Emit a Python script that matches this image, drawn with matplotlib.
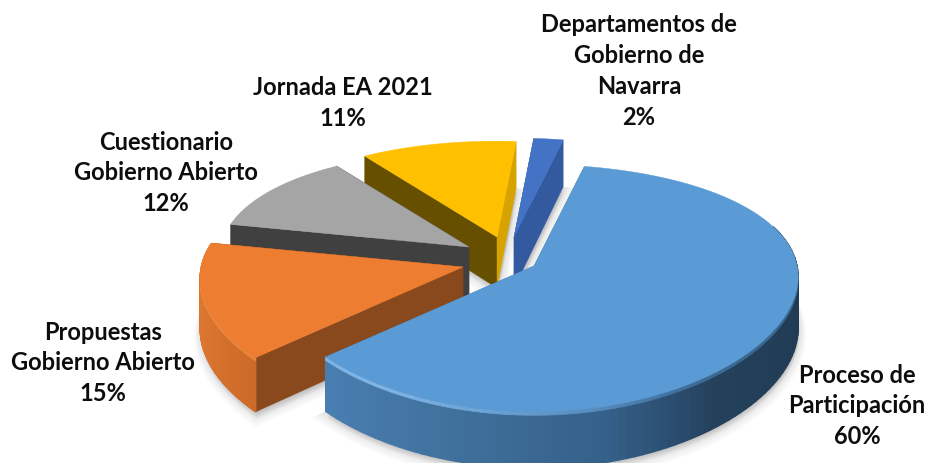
import numpy as np
import matplotlib
matplotlib.use("Agg")
import matplotlib.pyplot as plt
from matplotlib.colors import to_rgb

# Data
categories = ["Proceso de\nParticipación", "Propuestas\nGobierno Abierto", "Cuestionario\nGobierno Abierto",
              "Jornada EA 2021", "Departamentos de\nGobierno de\nNavarra"]
values = [60, 15, 12, 11, 2]

# Look of the pie
top_colors = ["#5b9bd5", "#ed7d31", "#a5a5a5", "#ffc000", "#4472c4"]
apex = [(534, 267), (463, 268), (469, 248), (497, 238), (514, 238)]   # tip of each exploded slice
size = [0.985, 0.98, 0.93, 0.93, 0.96]
face_a = ["#3f719f", "#8a491c", "#404040", "#665000", "#335a9f"]     # radial face at start angle
face_b = ["#3f719f", "#8a491c", "#404040", "#d6a300", "#335a9f"]     # radial face at end angle
label_pos = [(857, 406), (103, 363), (166, 173), (343, 103), (639, 71)]

start_angle = 12
rx, ry, persp, depth = 267, 121.5, 0.179, 51


def project(theta, tip, k):
    t = np.radians(theta)
    s = 1 / (1 + persp * np.cos(t))
    x = tip[0] + k * rx * np.sin(t) * np.sqrt(s)
    y = tip[1] - k * ry * np.cos(t) * s
    return x, y, depth * np.sqrt(s)


def mix(c1, c2, f):
    return tuple((1 - f) * a + f * b for a, b in zip(to_rgb(c1), to_rgb(c2)))


def rim_color(i, theta):
    if i == 0:
        stops = [(95, "#203a52"), (140, "#24415c"), (165, "#35608a"), (200, "#41739f"), (232, "#4b81b7")]
    else:
        stops = [(228, "#cc6a27"), (250, "#d97430"), (285, "#e07a30")]
    stops = [(-5, stops[0][1])] + stops + [(400, stops[-1][1])]
    for (a, ca), (b, cb) in zip(stops[:-1], stops[1:]):
        if a <= theta <= b:
            return mix(ca, cb, (theta - a) / (b - a))
    return stops[-1][1]


fig = plt.figure(figsize=(9.28, 4.64), dpi=100)
ax = fig.add_axes([0, 0, 1, 1])
ax.set_xlim(0, 928)
ax.set_ylim(464, 0)
ax.axis("off")
plt.rcParams["font.family"] = ["Lato", "DejaVu Sans"]

spans = []
a0 = start_angle
for v in values:
    a1 = a0 + v * 3.6
    spans.append((a0, a1))
    a0 = a1

# soft shadow under everything
for i, (a, b) in enumerate(spans):
    th = np.linspace(a, b, 80)
    x, y, d = project(th, apex[i], size[i])
    xs = np.r_[apex[i][0], x]
    ys = np.r_[apex[i][1] + depth, y + d]
    for grow in [10, 8, 6, 4, 2]:
        ax.fill(xs + 1, ys + grow * 0.7, color="#000000", alpha=0.025, lw=grow, zorder=1)

# back slices first, blue one goes on top
for i in [4, 3, 2, 1, 0]:
    a, b = spans[i]
    z = 10 + (4 - i) * 5
    tip = apex[i]
    th = np.linspace(a, b, 121)
    x, y, d = project(th, tip, size[i])

    # radial faces, start then end
    xa, ya, da = x[0], y[0], d[0]
    xb, yb, db = x[-1], y[-1], d[-1]
    ax.fill([tip[0], xa, xa, tip[0]], [tip[1], ya, ya + da, tip[1] + depth],
            color=face_a[i], lw=0.3, zorder=z)
    ax.fill([tip[0], xb, xb, tip[0]], [tip[1], yb, yb + db, tip[1] + depth],
            color=face_b[i], lw=0.3, zorder=z)

    # outer wall, only the two front slices show one
    if i < 2:
        for j in range(len(th) - 1):
            if np.cos(np.radians(th[j])) > 0.35 and i == 0:
                continue
            c = rim_color(i, th[j])
            ax.fill([x[j], x[j + 1], x[j + 1], x[j]],
                    [y[j], y[j + 1], y[j + 1] + d[j + 1], y[j] + d[j]],
                    color=c, lw=1.0, zorder=z + 0.1)
            # bevel just under the top edge
            if i == 0:
                f = np.clip((th[j] - 150) / 60, 0, 1)
                band = mix(mix(c, top_colors[0], 0.45), "#7fb4e6", f)
            else:
                band = mix(c, "#f08a40", 0.8)
            ax.fill([x[j], x[j + 1], x[j + 1], x[j]],
                    [y[j], y[j + 1], y[j + 1] + 3.5, y[j] + 3.5],
                    color=band, lw=0.5, zorder=z + 0.2)

    # top
    ax.fill(np.r_[tip[0], x], np.r_[tip[1], y], color=top_colors[i], lw=0.3, zorder=z + 0.3)

for cat, val, pos in zip(categories, values, label_pos):
    ax.text(pos[0], pos[1], f"{cat}\n{val}%", ha="center", va="center", fontsize=17,
            fontweight="bold", color="#0d0d0d", linespacing=1.42, zorder=60)

fig.savefig("out.png", dpi=100)
